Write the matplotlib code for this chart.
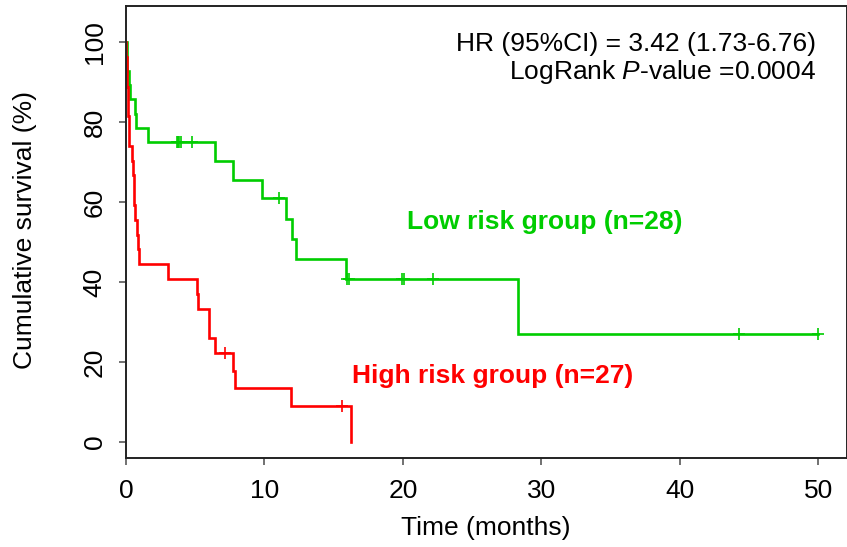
import numpy as np
import matplotlib.pyplot as plt

plt.rcParams['font.family'] = ['Liberation Sans', 'DejaVu Sans']
plt.rcParams['mathtext.fontset'] = 'custom'
plt.rcParams['mathtext.rm'] = 'Liberation Sans'
plt.rcParams['mathtext.it'] = 'Liberation Sans:italic'

# follow-up (months) and status, 1 = death, 0 = censored
low_time = [0.05, 0.10, 0.20, 0.28, 0.63, 0.75, 1.59,
            3.66, 3.75, 3.83, 3.95, 4.79,
            6.43, 7.70, 9.80, 11.07, 11.55, 11.96, 12.27, 15.86,
            15.94, 16.12, 19.95, 20.07, 22.14,
            28.30, 44.26, 50.0]
low_event = [1, 1, 1, 1, 1, 1, 1,
             0, 0, 0, 0, 0,
             1, 1, 1, 0, 1, 1, 1, 1,
             0, 0, 0, 0, 0,
             1, 0, 0]

high_time = [0.03, 0.06, 0.09, 0.12, 0.16, 0.20, 0.25,
             0.45, 0.50, 0.55, 0.60, 0.68,
             0.80, 0.90, 0.97,
             3.01, 5.10, 5.22, 6.01, 6.01, 6.43, 7.15, 7.70, 7.87,
             11.91, 15.57, 16.22]
high_event = [1, 1, 1, 1, 1, 1, 1,
              1, 1, 1, 1, 1,
              1, 1, 1,
              1, 1, 1, 1, 1, 1, 0, 1, 1,
              1, 0, 1]

x_ticks = [0, 10, 20, 30, 40, 50]
y_ticks = [0, 20, 40, 60, 80, 100]

hr_text = 'HR (95%CI) = 3.42 (1.73-6.76)'
p_text = r'LogRank $\mathit{P}$-value =0.0004'

GREEN = '#00CD00'
RED = '#FF0000'
FS = 19


def km(times, events):
    """Kaplan-Meier step coordinates plus censor mark positions (in %)."""
    t = np.asarray(times, float)
    e = np.asarray(events, int)
    xs, ys = [0.0], [100.0]
    cx, cy = [], []
    s = 1.0
    for u in np.unique(t):
        n = np.sum(t >= u)
        d = np.sum((t == u) & (e == 1))
        s *= 1 - d / n
        xs.append(u)
        ys.append(s * 100)
        if np.any((t == u) & (e == 0)):
            cx.append(u)
            cy.append(s * 100)
    return xs, ys, cx, cy


W, H = 847, 547
fig = plt.figure(figsize=(W / 100, H / 100), dpi=100)
ax = fig.add_axes([126 / W, (H - 458) / H, (846.5 - 126) / W, (458 - 6) / H])

for times, events, col in [(low_time, low_event, GREEN), (high_time, high_event, RED)]:
    xs, ys, cx, cy = km(times, events)
    ax.step(xs, ys, where='post', color=col, lw=1.9, solid_joinstyle='miter')
    ax.plot(cx, cy, ls='none', marker='+', ms=9, mew=1.2, color=col)

ax.set_xlim(0, 52.03)
ax.set_ylim(-4.08, 109.1)
ax.set_xticks(x_ticks)
ax.set_yticks(y_ticks)
ax.tick_params(length=5, width=1.3, color='#666666', labelsize=FS)
ax.tick_params(axis='x', pad=10)
ax.tick_params(axis='y', pad=9)
for lab in ax.get_yticklabels():
    lab.set_rotation(90)
    lab.set_va('center')
for sp in ax.spines.values():
    sp.set_linewidth(1.4)
    sp.set_color('#222222')

fig.text(25 / W, 1 - 230 / H, 'Cumulative survival (%)', rotation=90,
         ha='center', va='center', fontsize=FS)
fig.text(486 / W, 1 - 528 / H, 'Time (months)', ha='center', va='center', fontsize=FS)

fig.text(816 / W, 1 - 44 / H, hr_text, ha='right', va='center', fontsize=FS)
fig.text(816 / W, 1 - 72 / H, p_text, ha='right', va='center', fontsize=FS)

ax.text(20.3, 55.0, 'Low risk group (n=28)', color=GREEN, fontweight='bold',
        fontsize=FS, ha='left', va='center')
ax.text(16.3, 16.4, 'High risk group (n=27)', color=RED, fontweight='bold',
        fontsize=FS, ha='left', va='center')

fig.savefig('out.png', dpi=100)
